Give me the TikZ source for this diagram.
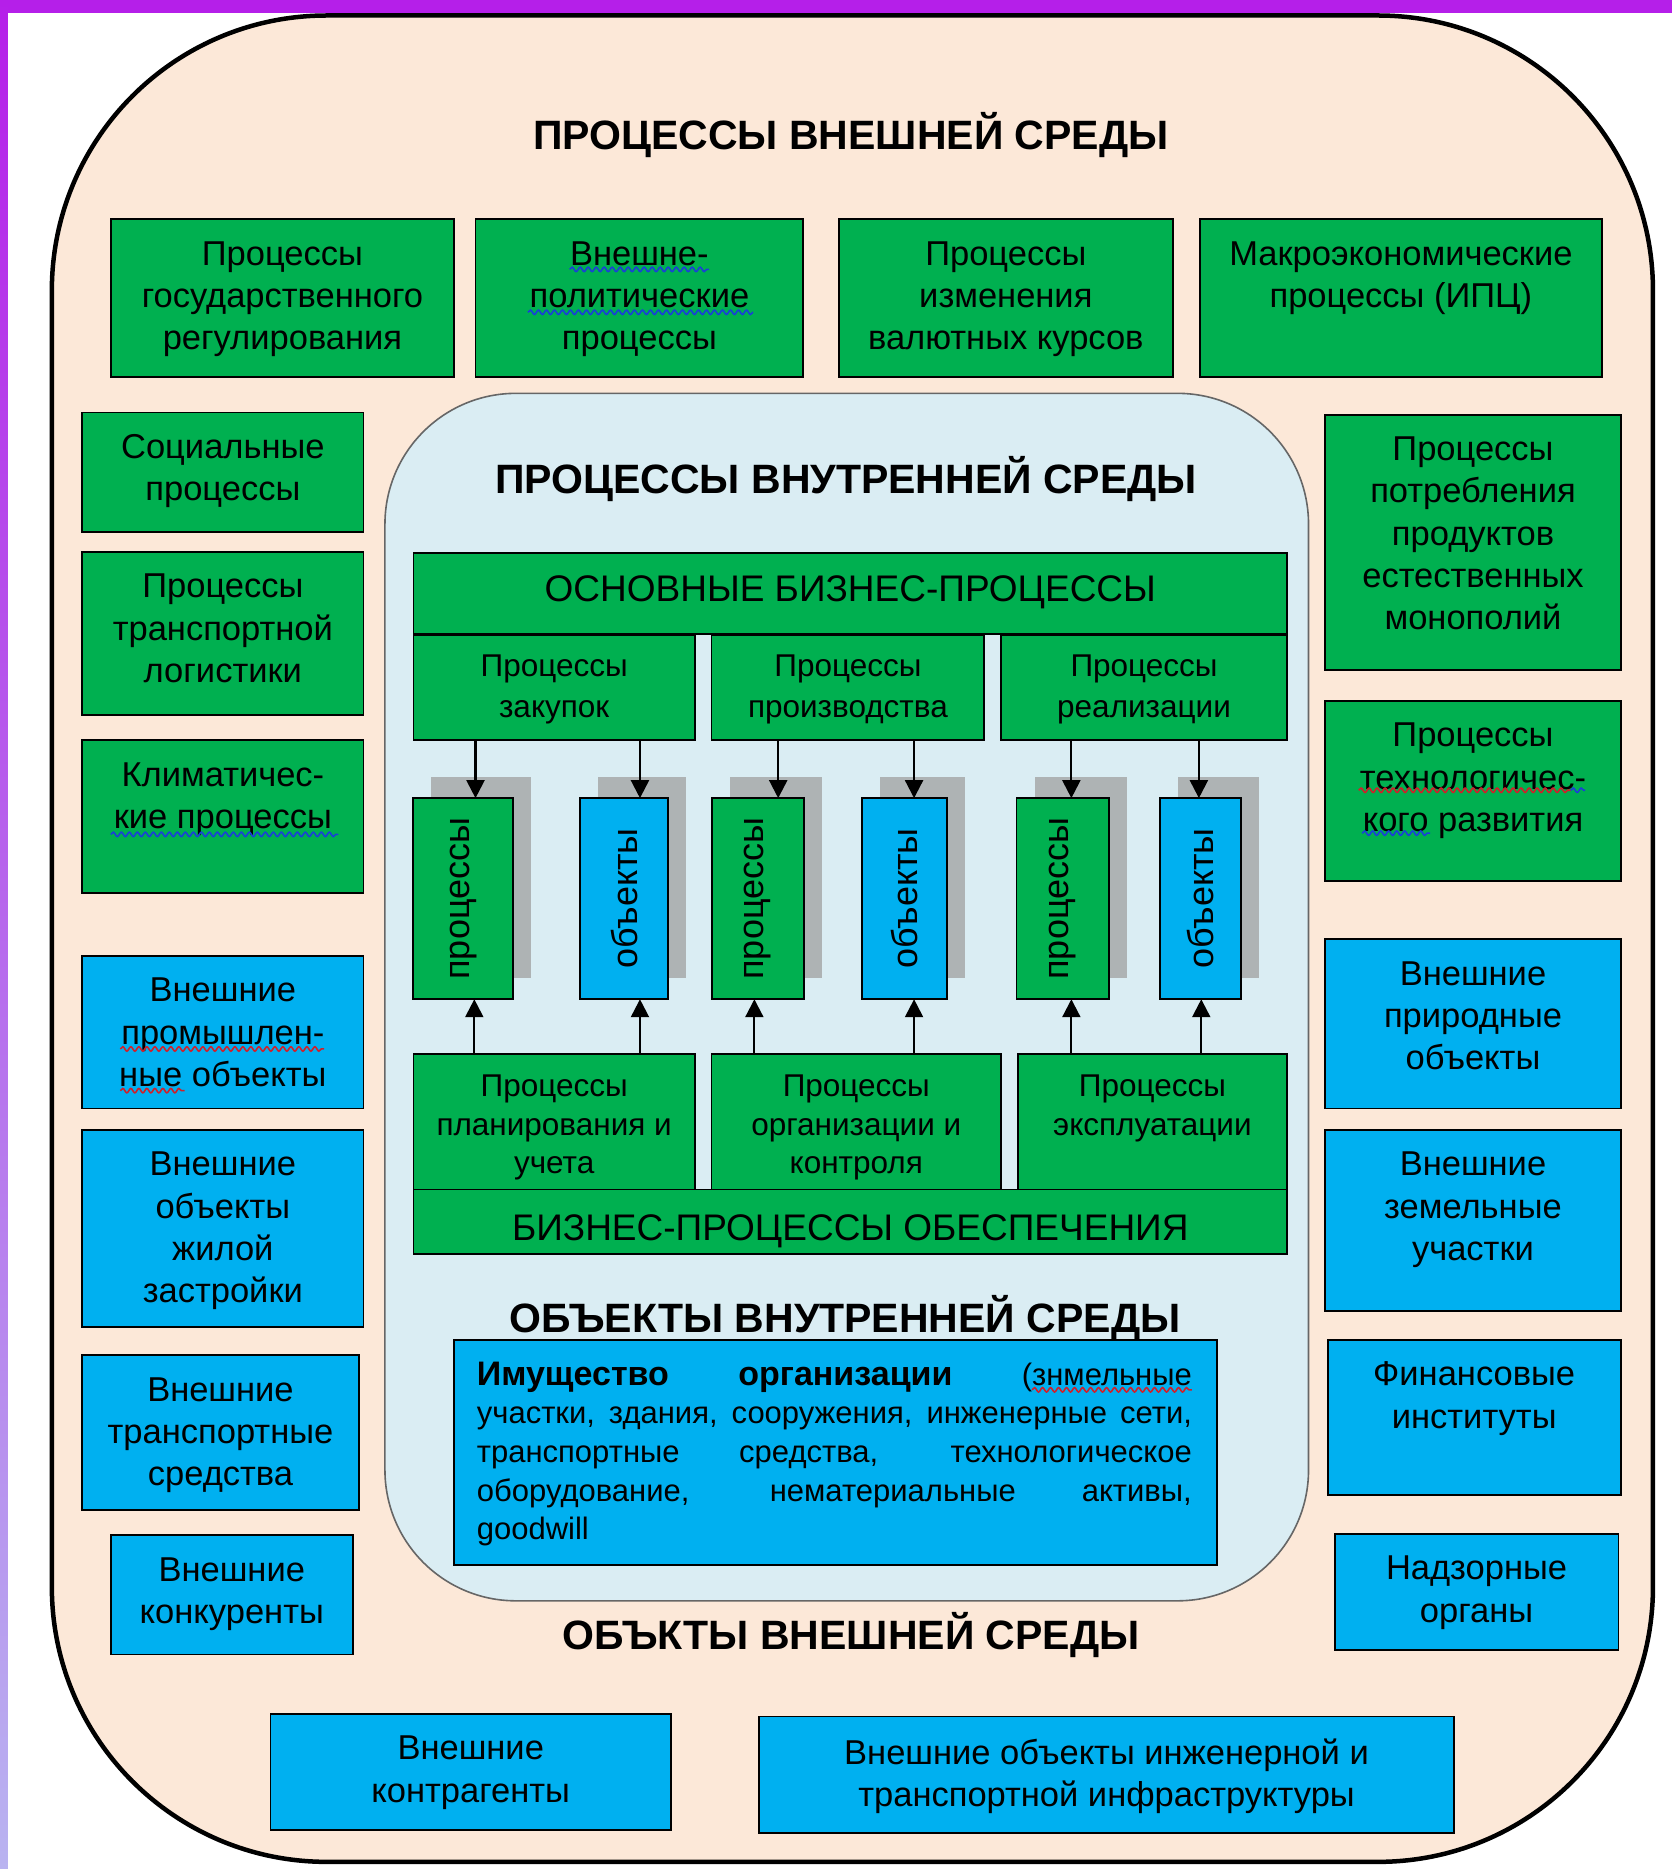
\documentclass[tikz,border=0pt]{standalone}
\usepackage{fontspec}
\setmainfont{Liberation Sans}
\usetikzlibrary{fit,arrows.meta,shadows,decorations.pathmorphing}
\definecolor{grn}{HTML}{00B050}
\definecolor{blu}{HTML}{00B0F0}
\definecolor{peach}{HTML}{FCE8D8}
\definecolor{innerc}{HTML}{DAEDF3}
\definecolor{shg}{HTML}{AEB3B4}
\definecolor{purp}{HTML}{B51FE9}
\definecolor{lav}{HTML}{B9B3F0}
\definecolor{sqred}{HTML}{D0202A}
\definecolor{sqblue}{HTML}{1A3FD8}
\newcommand\mkbox[6]{\node[#2,fit={(#3)(#4)}] (#1) {};\node[#5,anchor=north] (#1t) at (#1.north) {#6};}
\begin{document}
\begin{tikzpicture}[x=1.19173pt,y=-1.19196pt,
 bx/.style={draw=black,line width=1.8pt,inner sep=0pt,outer sep=0pt},
 gbox/.style={bx,fill=grn}, bbox/.style={bx,fill=blu},
 vshadow/.style={drop shadow={shadow xshift=18pt,shadow yshift=21pt,opacity=1,fill=shg,draw=none}},
 txt/.style={inner sep=0pt,align=center,font=\fontsize{34.5}{42.3}\selectfont,execute at begin node=\strut,execute at end node=\strut,yshift=-21.9pt},
 txts/.style={inner sep=0pt,align=center,font=\fontsize{31.5}{40.5}\selectfont,execute at begin node=\strut,execute at end node=\strut,yshift=-19.8pt},
 txtl/.style={inner sep=0pt,align=center,font=\fontsize{31.5}{38.7}\selectfont,execute at begin node=\strut,execute at end node=\strut,yshift=-21pt},
 txtb/.style={inner sep=0pt,align=center,font=\fontsize{37}{44}\selectfont,execute at begin node=\strut,execute at end node=\strut,yshift=-17pt},
 txtb2/.style={txtb,yshift=-2.7pt},
 vtxt/.style={inner sep=0pt,rotate=90,font=\fontsize{36}{40}\selectfont},
 ttl/.style={inner sep=0pt,anchor=base,font=\fontsize{41}{48}\selectfont\bfseries},
 arr/.style={line width=2.2pt,-{Triangle[width=18pt,length=18pt]}},
 sq/.style={line width=1.6pt,decorate,decoration={snake,segment length=8pt,amplitude=2.2pt}},
]
\useasboundingbox (0,0) rectangle (1403,1568);
\fill[white] (0,0) rectangle (1403,1568);
% outer frame
\draw[line width=4.5pt,fill=peach,rounded corners=275pt] (43.5,13) rectangle (1387,1562);
\fill[purp] (0,0) rectangle (1403,11);
\shade[top color=purp,bottom color=lav] (0,0) rectangle (6.7,1568);
% inner frame
\draw[draw=black!60,line width=1.6pt,fill=innerc,rounded corners=131pt] (323,330) rectangle (1098,1343);

% titles
\node[ttl] (T1) at (714,125.5) {ПРОЦЕССЫ ВНЕШНЕЙ СРЕДЫ};
\node[ttl] (T2) at (710,414.4) {ПРОЦЕССЫ ВНУТРЕННЕЙ СРЕДЫ};
\node[ttl] (T4) at (714,1384) {ОБЪКТЫ ВНЕШНЕЙ СРЕДЫ};

% top row
\mkbox{t1}{gbox}{93,184}{381,316}{txt}{Процессы\\государственного\\регулирования}
\mkbox{t2}{gbox}{399,184}{674,316}{txt}{Внешне-\\политические\\процессы}
\mkbox{t3}{gbox}{704,184}{984,316}{txt}{Процессы\\изменения\\валютных курсов}
\mkbox{t4}{gbox}{1007,184}{1344,316}{txt}{Макроэкономические\\процессы (ИПЦ)}
% left column
\mkbox{l1}{gbox}{69,346}{305,446}{txt}{Социальные\\процессы}
\mkbox{l2}{gbox}{69,463}{305,600}{txt}{Процессы\\транспортной\\логистики}
\mkbox{l3}{gbox}{69,621}{305,749}{txt}{Климатичес-\\кие процессы}
\mkbox{l4}{bbox}{69,802}{305,930}{txt}{Внешние\\промышлен-\\ные объекты}
\mkbox{l5}{bbox}{69,948}{305,1113}{txt}{Внешние\\объекты\\жилой\\застройки}
\mkbox{l6}{bbox}{69,1137}{301,1267}{txt}{Внешние\\транспортные\\средства}
\mkbox{l7}{bbox}{93,1288}{296,1388}{txt}{Внешние\\конкуренты}
% right column
\mkbox{r1}{gbox}{1112,348}{1360,562}{txt}{Процессы\\потребления\\продуктов\\естественных\\монополий}
\mkbox{r2}{gbox}{1112,588}{1360,739}{txt}{Процессы\\технологичес-\\кого развития}
\mkbox{r3}{bbox}{1112,788}{1360,930}{txt}{Внешние\\природные\\объекты}
\mkbox{r4}{bbox}{1112,948}{1360,1100}{txt}{Внешние\\земельные\\участки}
\mkbox{r5}{bbox}{1114,1124}{1360,1254}{txt}{Финансовые\\институты}
\mkbox{r6}{bbox}{1120,1287}{1358,1384}{txt}{Надзорные\\органы}
% bottom row
\mkbox{b1}{bbox}{227,1438}{563,1535}{txt}{Внешние\\контрагенты}
\mkbox{b2}{bbox}{637,1440}{1220,1538}{txt}{Внешние объекты инженерной и\\транспортной инфраструктуры}

% inner business processes
\mkbox{m0}{gbox}{347,464}{1080,532}{txtb}{ОСНОВНЫЕ БИЗНЕС-ПРОЦЕССЫ}
\mkbox{m1}{gbox}{347,533}{583,621}{txts}{Процессы\\закупок}
\mkbox{m2}{gbox}{597,533}{826,621}{txts}{Процессы\\производства}
\mkbox{m3}{gbox}{840,533}{1080,621}{txts}{Процессы\\реализации}

\node[gbox,vshadow,fit={(346.6,669.6)(430.5,838.3)}] (v1) {};
\node[bbox,vshadow,fit={(486.7,669.6)(560.5,838.3)}] (v2) {};
\node[gbox,vshadow,fit={(597.2,669.6)(674.6,838.3)}] (v3) {};
\node[bbox,vshadow,fit={(723,669.6)(794.6,838.3)}] (v4) {};
\node[gbox,vshadow,fit={(853,669.6)(930.6,838.3)}] (v5) {};
\node[bbox,vshadow,fit={(973.4,669.6)(1041.3,838.3)}] (v6) {};
\node[vtxt] (v1t) at (v1) {процессы};
\node[vtxt] (v2t) at (v2) {объекты};
\node[vtxt] (v3t) at (v3) {процессы};
\node[vtxt] (v4t) at (v4) {объекты};
\node[vtxt] (v5t) at (v5) {процессы};
\node[vtxt] (v6t) at (v6) {объекты};

\mkbox{p1}{gbox}{347,884}{583,998}{txtl}{Процессы\\планирования и\\учета}
\mkbox{p2}{gbox}{597,884}{840,998}{txtl}{Процессы\\организации и\\контроля}
\mkbox{p3}{gbox}{854,884}{1080,998}{txtl}{Процессы\\эксплуатации}
\mkbox{m4}{gbox}{347,998}{1080,1052}{txtb2}{БИЗНЕС-ПРОЦЕССЫ ОБЕСПЕЧЕНИЯ}

% arrows
\draw[arr] (m1.south -| 399,0) -- (v1.north -| 399,0);
\draw[arr] (m1.south -| 537,0) -- (v2.north -| 537,0);
\draw[arr] (m2.south -| 653,0) -- (v3.north -| 653,0);
\draw[arr] (m2.south -| 767,0) -- (v4.north -| 767,0);
\draw[arr] (m3.south -| 899,0) -- (v5.north -| 899,0);
\draw[arr] (m3.south -| 1006,0) -- (v6.north -| 1006,0);
\draw[arr] (p1.north -| 398,0) -- (v1.south -| 398,0);
\draw[arr] (p1.north -| 537,0) -- (v2.south -| 537,0);
\draw[arr] (p2.north -| 633,0) -- (v3.south -| 633,0);
\draw[arr] (p2.north -| 767,0) -- (v4.south -| 767,0);
\draw[arr] (p3.north -| 899,0) -- (v5.south -| 899,0);
\draw[arr] (p3.north -| 1008,0) -- (v6.south -| 1008,0);

% property box
\node[bbox,fit={(381,1124)(1021,1313)}] (pb) {};
\node[anchor=north west,inner sep=0pt,align=left,font=\fontsize{31}{38.7}\selectfont] (pbt) at (400,1142.5)
 {\makebox[715pt][s]{\fontsize{34}{38.7}\selectfont\bfseries Имущество организации \mdseries\fontsize{31}{38.7}\selectfont(знмельные}\\[-0.5pt]
  \makebox[715pt][s]{участки, здания, сооружения, инженерные сети,}\\
  \makebox[715pt][s]{транспортные средства, технологическое}\\
  \makebox[715pt][s]{оборудование, нематериальные активы,}\\
  goodwill};
\node[ttl] (T3) at (709,1118) {ОБЪЕКТЫ ВНУТРЕННЕЙ СРЕДЫ};

% spell-check squiggles
\draw[sq,sqblue] (478,226) -- (595,226);
\draw[sq,sqblue] (443,262) -- (632,262);
\draw[sq,sqblue] (93,700) -- (284,700);
\draw[sq,sqred] (101,880) -- (272,880);
\draw[sq,sqred] (101,915) -- (155,915);
\draw[sq,sqred] (1140,663) -- (1318,663);
\draw[sq,sqblue] (1318,663) -- (1330,663);
\draw[sq,sqblue] (1143,699) -- (1200,699);
\draw[sq,sqred] (866,1166) -- (1000,1166);
\end{tikzpicture}
\end{document}
